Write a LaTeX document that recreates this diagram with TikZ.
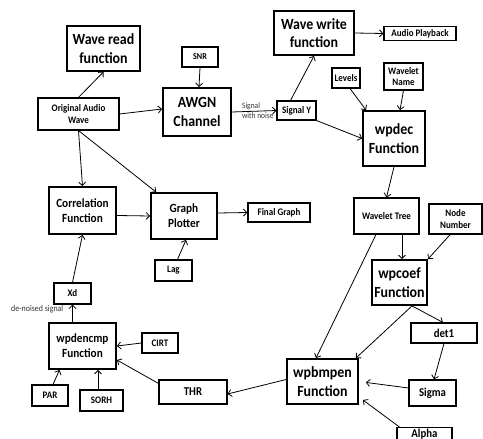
\documentclass[tikz,border=0pt]{standalone}
\usepackage{fontspec}
\setmainfont{Carlito}[FakeStretch=0.9]
\usetikzlibrary{arrows.meta,calc}
\tikzset{
  box/.style={draw, line width=1.1pt, inner sep=0pt, align=center, font=\bfseries\fontsize{10}{11.5}\selectfont},
  bigbox/.style={box, line width=1.8pt, font=\bfseries\fontsize{15.5}{18.5}\selectfont},
  midbox/.style={box, line width=1.8pt, font=\bfseries\fontsize{12.5}{15}\selectfont},
  medtxt/.style={font=\bfseries\fontsize{12}{14}\selectfont},
  lbl/.style={inner sep=1pt, font=\fontsize{8.3}{9}\selectfont, text=black!80},
  arr/.style={line width=0.8pt, -{Straight Barb[length=3.5pt,width=7pt]}}
}
\begin{document}
\begin{tikzpicture}[x=1pt,y=-1pt]
\useasboundingbox (0,0) rectangle (483,439);
\clip (0,0) rectangle (483,439);
% nodes
\node[bigbox, minimum width=73pt, minimum height=45pt] (wread) at (103.5,48.5) {Wave read\\function};
\node[box, minimum width=36pt, minimum height=20pt, font=\bfseries\fontsize{9}{10}\selectfont] (snr) at (200,57) {SNR};
\node[box, minimum width=81pt, minimum height=32pt] (oaw) at (78.5,114) {Original Audio\\Wave};
\node[bigbox, minimum width=68pt, minimum height=48pt] (awgn) at (197,112) {AWGN\\Channel};
\node[midbox, minimum width=67pt, minimum height=47pt] (corr) at (82.5,210.5) {Correlation\\Function};
\node[midbox, minimum width=66pt, minimum height=46pt] (gplot) at (184,216) {Graph\\Plotter};
\node[box, minimum width=62pt, minimum height=19pt] (fgraph) at (279,212.5) {Final Graph};
\node[box, minimum width=37pt, minimum height=21pt] (lag) at (173.5,270.5) {Lag};
\node[box, minimum width=37pt, minimum height=21pt] (xd) at (72.5,293.5) {Xd};
\node[midbox, minimum width=67pt, minimum height=46pt] (wpdencmp) at (82.5,346) {wpdencmp\\Function};
\node[box, minimum width=36pt, minimum height=20pt] (cirt) at (160,343) {CIRT};
\node[box, minimum width=36pt, minimum height=21pt] (par) at (50,395.5) {PAR};
\node[box, minimum width=43pt, minimum height=21pt] (sorh) at (101.5,400.5) {SORH};
\node[box, medtxt, minimum width=68pt, minimum height=24pt] (thr) at (193,392) {THR};
\node[bigbox, minimum width=80pt, minimum height=44pt] (wwrite) at (314,33) {Wave write\\function};
\node[box, minimum width=72pt, minimum height=14pt] (audio) at (420,33.5) {Audio Playback};
\node[box, minimum width=28pt, minimum height=20pt] (levels) at (346,78) {Levels};
\node[box, minimum width=39pt, minimum height=27pt] (wname) at (403.5,76.5) {Wavelet\\Name};
\node[box, minimum width=39pt, minimum height=19pt] (sigy) at (296.5,110.5) {Signal Y};
\node[bigbox, minimum width=62pt, minimum height=55pt] (wpdec) at (394,138.5) {wpdec\\Function};
\node[box, minimum width=65pt, minimum height=36pt] (wtree) at (386.5,216) {Wavelet Tree};
\node[box, line width=1.5pt, minimum width=53pt, minimum height=30pt] (nodenum) at (455.5,219) {Node\\Number};
\node[bigbox, minimum width=55pt, minimum height=45pt] (wpcoef) at (399.5,282.5) {wpcoef\\Function};
\node[box, medtxt, minimum width=66pt, minimum height=20pt] (det1) at (444,333) {det1};
\node[bigbox, minimum width=71pt, minimum height=45pt] (wpbmpen) at (322.5,381.5) {wpbmpen\\Function};
\node[box, medtxt, minimum width=47pt, minimum height=26pt] (sigma) at (432.5,393) {Sigma};
\node[box, medtxt, anchor=north, minimum width=55pt, inner ysep=1.5pt] (alpha) at (424.5,427) {Alpha};
% labels
\node[lbl, anchor=south west] (lsig) at ([xshift=9pt,yshift=1pt]awgn.east) {Signal};
\node[lbl, anchor=north west] (lnoise) at ([xshift=9pt,yshift=0pt]awgn.east) {with noise};
\node[lbl, font=\fontsize{8.8}{10}\selectfont, anchor=north east] (lden) at ([xshift=-8pt,yshift=0pt]xd.south) {de-noised signal};
% connectors
\draw[arr] (oaw.north) -- (wread.south);
\draw[arr] (snr.south) -- ([xshift=2pt]awgn.north);
\draw[arr] (oaw.east) -- ([yshift=3pt]awgn.west);
\draw[arr] (oaw.south) -- (corr.north);
\draw[arr] (oaw.south) -- ([xshift=6pt]gplot.north west);
\draw[arr] (awgn.east) -- (sigy.west);
\draw[arr] ([xshift=-6pt]sigy.north) -- (wwrite.south);
\draw[arr] (wwrite.east) -- (audio.west);
\draw[arr] (sigy.south east) -- (wpdec.west);
\draw[arr] ([xshift=4pt]levels.south) -- ([xshift=4pt]wpdec.north west);
\draw[arr] (wname.south) -- ([xshift=6pt]wpdec.north);
\draw[arr] (wpdec.south) -- (wtree.north);
\draw[arr] ([yshift=-5pt]corr.east) -- (gplot.west);
\draw[arr] ([yshift=3pt]gplot.east) -- (fgraph.west);
\draw[arr] ([xshift=4pt]lag.north) -- ([xshift=2pt]gplot.south);
\draw[arr] (xd.north) -- (corr.south);
\draw[arr] ([xshift=-10pt]wpdencmp.north) -- (xd.south);
\draw[arr] (cirt.west) -- (wpdencmp.east);
\draw[arr] ([xshift=3pt]par.north) -- ([xshift=-23pt]wpdencmp.south);
\draw[arr] ([xshift=-3.5pt]sorh.north) -- ([xshift=15.5pt]wpdencmp.south);
\draw[arr] ([yshift=-4pt]thr.north west) -- ([yshift=-14pt]wpdencmp.east);
\draw[arr] ([yshift=2pt]wpbmpen.west) -- ([yshift=-2pt]thr.east);
\draw[arr] ([xshift=-10.5pt]wtree.south) -- ([xshift=-6.5pt]wpbmpen.north);
\draw[arr] ([xshift=15.5pt]wtree.south) -- ([xshift=2.5pt]wpcoef.north);
\draw[arr] ([xshift=-5.5pt]nodenum.south) -- (wpcoef.north east);
\draw[arr] ([xshift=12.5pt]wpcoef.south) -- ([xshift=-1pt]det1.north);
\draw[arr] ([xshift=12.5pt]wpcoef.south) -- ([xshift=-3pt]wpbmpen.north east);
\draw[arr] (det1.south) -- ([xshift=1.5pt]sigma.north);
\draw[arr, shorten >=7pt] ([yshift=5pt]sigma.west) -- ([yshift=0pt]wpbmpen.east);
\draw[arr, shorten >=5pt] ([xshift=3pt]alpha.north west) -- ([yshift=-15.5pt]wpbmpen.east);
\end{tikzpicture}
\end{document}
